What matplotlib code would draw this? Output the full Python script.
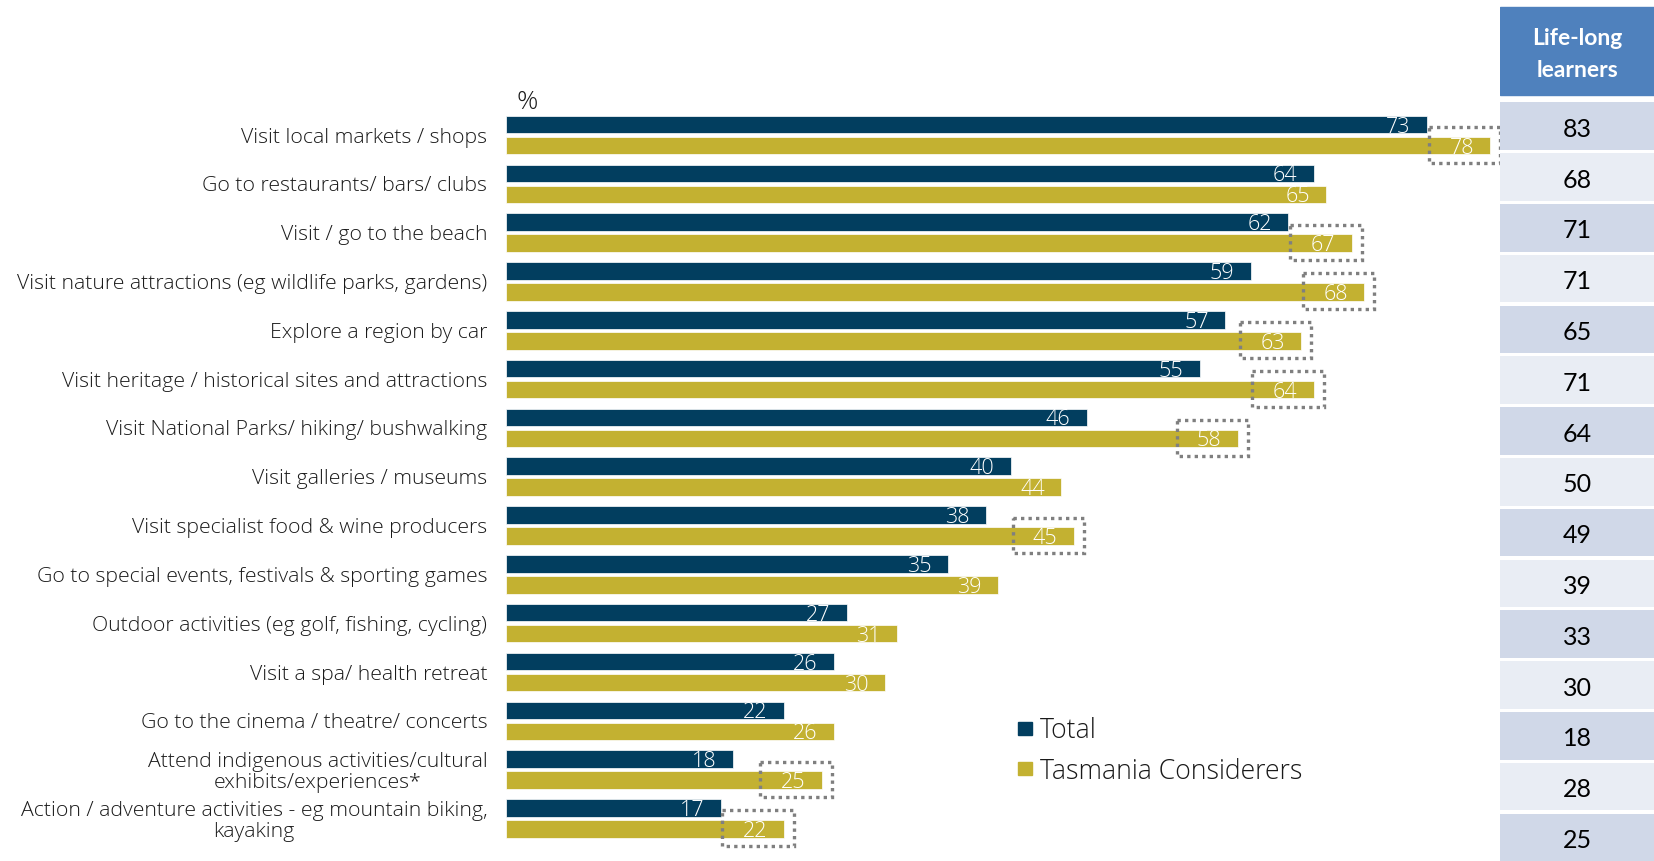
import matplotlib
matplotlib.use("Agg")
import matplotlib.pyplot as plt
from matplotlib.patches import Rectangle
from matplotlib import font_manager as fm

# ---------------- data ----------------
categories = [
    "Visit local markets / shops",
    "Go to restaurants/ bars/ clubs",
    "Visit / go to the beach",
    "Visit nature attractions (eg wildlife parks, gardens)",
    "Explore a region by car",
    "Visit heritage / historical sites and attractions",
    "Visit National Parks/ hiking/ bushwalking",
    "Visit galleries / museums",
    "Visit specialist food & wine producers",
    "Go to special events, festivals & sporting games",
    "Outdoor activities (eg golf, fishing, cycling)",
    "Visit a spa/ health retreat",
    "Go to the cinema / theatre/ concerts",
    "Attend indigenous activities/cultural\nexhibits/experiences*",
    "Action / adventure activities - eg mountain biking,\nkayaking",
]
total = [73, 64, 62, 59, 57, 55, 46, 40, 38, 35, 27, 26, 22, 18, 17]
tasmania = [78, 65, 67, 68, 63, 64, 58, 44, 45, 39, 31, 30, 26, 25, 22]
highlighted = [True, False, True, True, True, True, True, False, True,
               False, False, False, False, True, True]
lifelong = [83, 68, 71, 71, 65, 71, 64, 50, 49, 39, 33, 30, 18, 28, 25]
series_names = ["Total", "Tasmania Considerers"]
table_header = "Life-long\nlearners"

# ---------------- style ----------------
NAVY = "#023E5F"
GOLD = "#C3B131"
HEAD = "#4F81BD"
ROW_DARK = "#D0D8E8"
ROW_LIGHT = "#E9EDF4"
TXT = "#1A1A1A"


def pick(*names):
    avail = {f.name for f in fm.fontManager.ttflist}
    for n in names:
        if n in avail:
            return n
    return "DejaVu Sans"


def has_weight(name, weights):
    for f in fm.fontManager.ttflist:
        if f.name == name and f.weight in weights:
            return True
    return False


LIGHT_FAMILY = pick("Open Sans", "Lato", "DejaVu Sans")
LIGHT_WEIGHT = 300 if has_weight(LIGHT_FAMILY, (300, "light")) else "normal"
TABLE_FAMILY = pick("Lato", "Open Sans", "DejaVu Sans")

plt.rcParams["font.family"] = [LIGHT_FAMILY, "DejaVu Sans"]

W, H = 1654, 861
fig = plt.figure(figsize=(W / 100, H / 100), dpi=100)

# main bar axes (pixel layout converted to figure fractions)
ax_left, ax_right = 506, 1500
px_per_unit = 12.62
row0_px, row_pitch = 135.0, 48.82
top_px = row0_px - 0.5 * row_pitch
bot_px = row0_px + 14.5 * row_pitch
ax = fig.add_axes([ax_left / W, 1 - bot_px / H,
                   (ax_right - ax_left) / W, (bot_px - top_px) / H])
ax.set_xlim(0, (ax_right - ax_left) / px_per_unit)
ax.set_ylim(14.5, -0.5)

n = len(categories)
rows = list(range(n))
bar_h = 0.36
off = 0.215
ax.barh([r - off for r in rows], total, height=bar_h, color=NAVY,
        edgecolor="white", linewidth=0.5)
ax.barh([r + off for r in rows], tasmania, height=bar_h, color=GOLD,
        edgecolor="white", linewidth=0.5)

for a in ax.spines.values():
    a.set_visible(False)
ax.set_xticks([])
ax.set_yticks(rows)
ax.set_yticklabels(categories, fontsize=15.3, color=TXT,
                   fontweight=LIGHT_WEIGHT)
ax.tick_params(axis="y", length=0, pad=13.5)
for lbl in ax.get_yticklabels():
    lbl.set_multialignment("center")
    lbl.set_linespacing(1.06)

# value labels inside bar ends
pad_units = 1.3
for r, (t, s) in enumerate(zip(total, tasmania)):
    ax.text(t - pad_units, r - off + bar_h / 2 - 0.015, str(t), ha="right",
            va="baseline", color="white", fontsize=15.5,
            fontweight=LIGHT_WEIGHT)
    ax.text(s - pad_units, r + off + bar_h / 2 - 0.015, str(s), ha="right",
            va="baseline", color="white", fontsize=15.5,
            fontweight=LIGHT_WEIGHT)

# dotted highlight boxes around selected values
box_w = 5.65
for r, (s, hl) in enumerate(zip(tasmania, highlighted)):
    if not hl:
        continue
    right = s + 0.8
    rect = Rectangle((right - box_w, r - 0.165), box_w, 0.735, fill=False,
                     edgecolor="#7F7F7F", linewidth=2.4,
                     linestyle=(0, (1, 1.25)), clip_on=False, zorder=5)
    ax.add_patch(rect)

ax.text((517 - ax_left) / px_per_unit, (109 - row0_px) / row_pitch, "%",
        ha="left", va="baseline", fontsize=19, color=TXT,
        fontweight=LIGHT_WEIGHT, clip_on=False)

# legend
for (name, col, yc, yb) in [(series_names[0], NAVY, 728.5, 738),
                            (series_names[1], GOLD, 768.5, 779)]:
    fig.add_artist(Rectangle((1018 / W, 1 - (yc + 6.5) / H), 14 / W, 13 / H,
                             transform=fig.transFigure, color=col))
    fig.text(1040 / W, 1 - yb / H, name, ha="left", va="baseline",
             fontsize=19.2, color=TXT, fontweight=LIGHT_WEIGHT)

# side table
t_row0, t_pitch = 126.2, 50.8
ax_t = fig.add_axes([1500 / W, 0, (W - 1500) / W, 1])
ax_t.set_xlim(0, 1)
ax_t.set_ylim((H - t_row0) / t_pitch, -t_row0 / t_pitch)
ax_t.axis("off")
cell_h = 47.5 / t_pitch
ax_t.barh(rows, [1] * n, height=cell_h, left=0,
          color=[ROW_DARK if i % 2 == 0 else ROW_LIGHT for i in rows])
h_top = (7 - t_row0) / t_pitch
h_bot = (95 - t_row0) / t_pitch
ax_t.add_patch(Rectangle((0, h_top), 1, h_bot - h_top, color=HEAD))
ax_t.text(0.5, (h_top + h_bot) / 2 + 0.07, table_header, ha="center",
          va="center", fontsize=16.5, fontweight="bold", color="white",
          family=TABLE_FAMILY, linespacing=1.6)
for i, v in enumerate(lifelong):
    ax_t.text(0.5, i + 0.06, str(v), ha="center", va="center", fontsize=18,
              color="black", family=TABLE_FAMILY)

fig.savefig("out.png", dpi=100)
